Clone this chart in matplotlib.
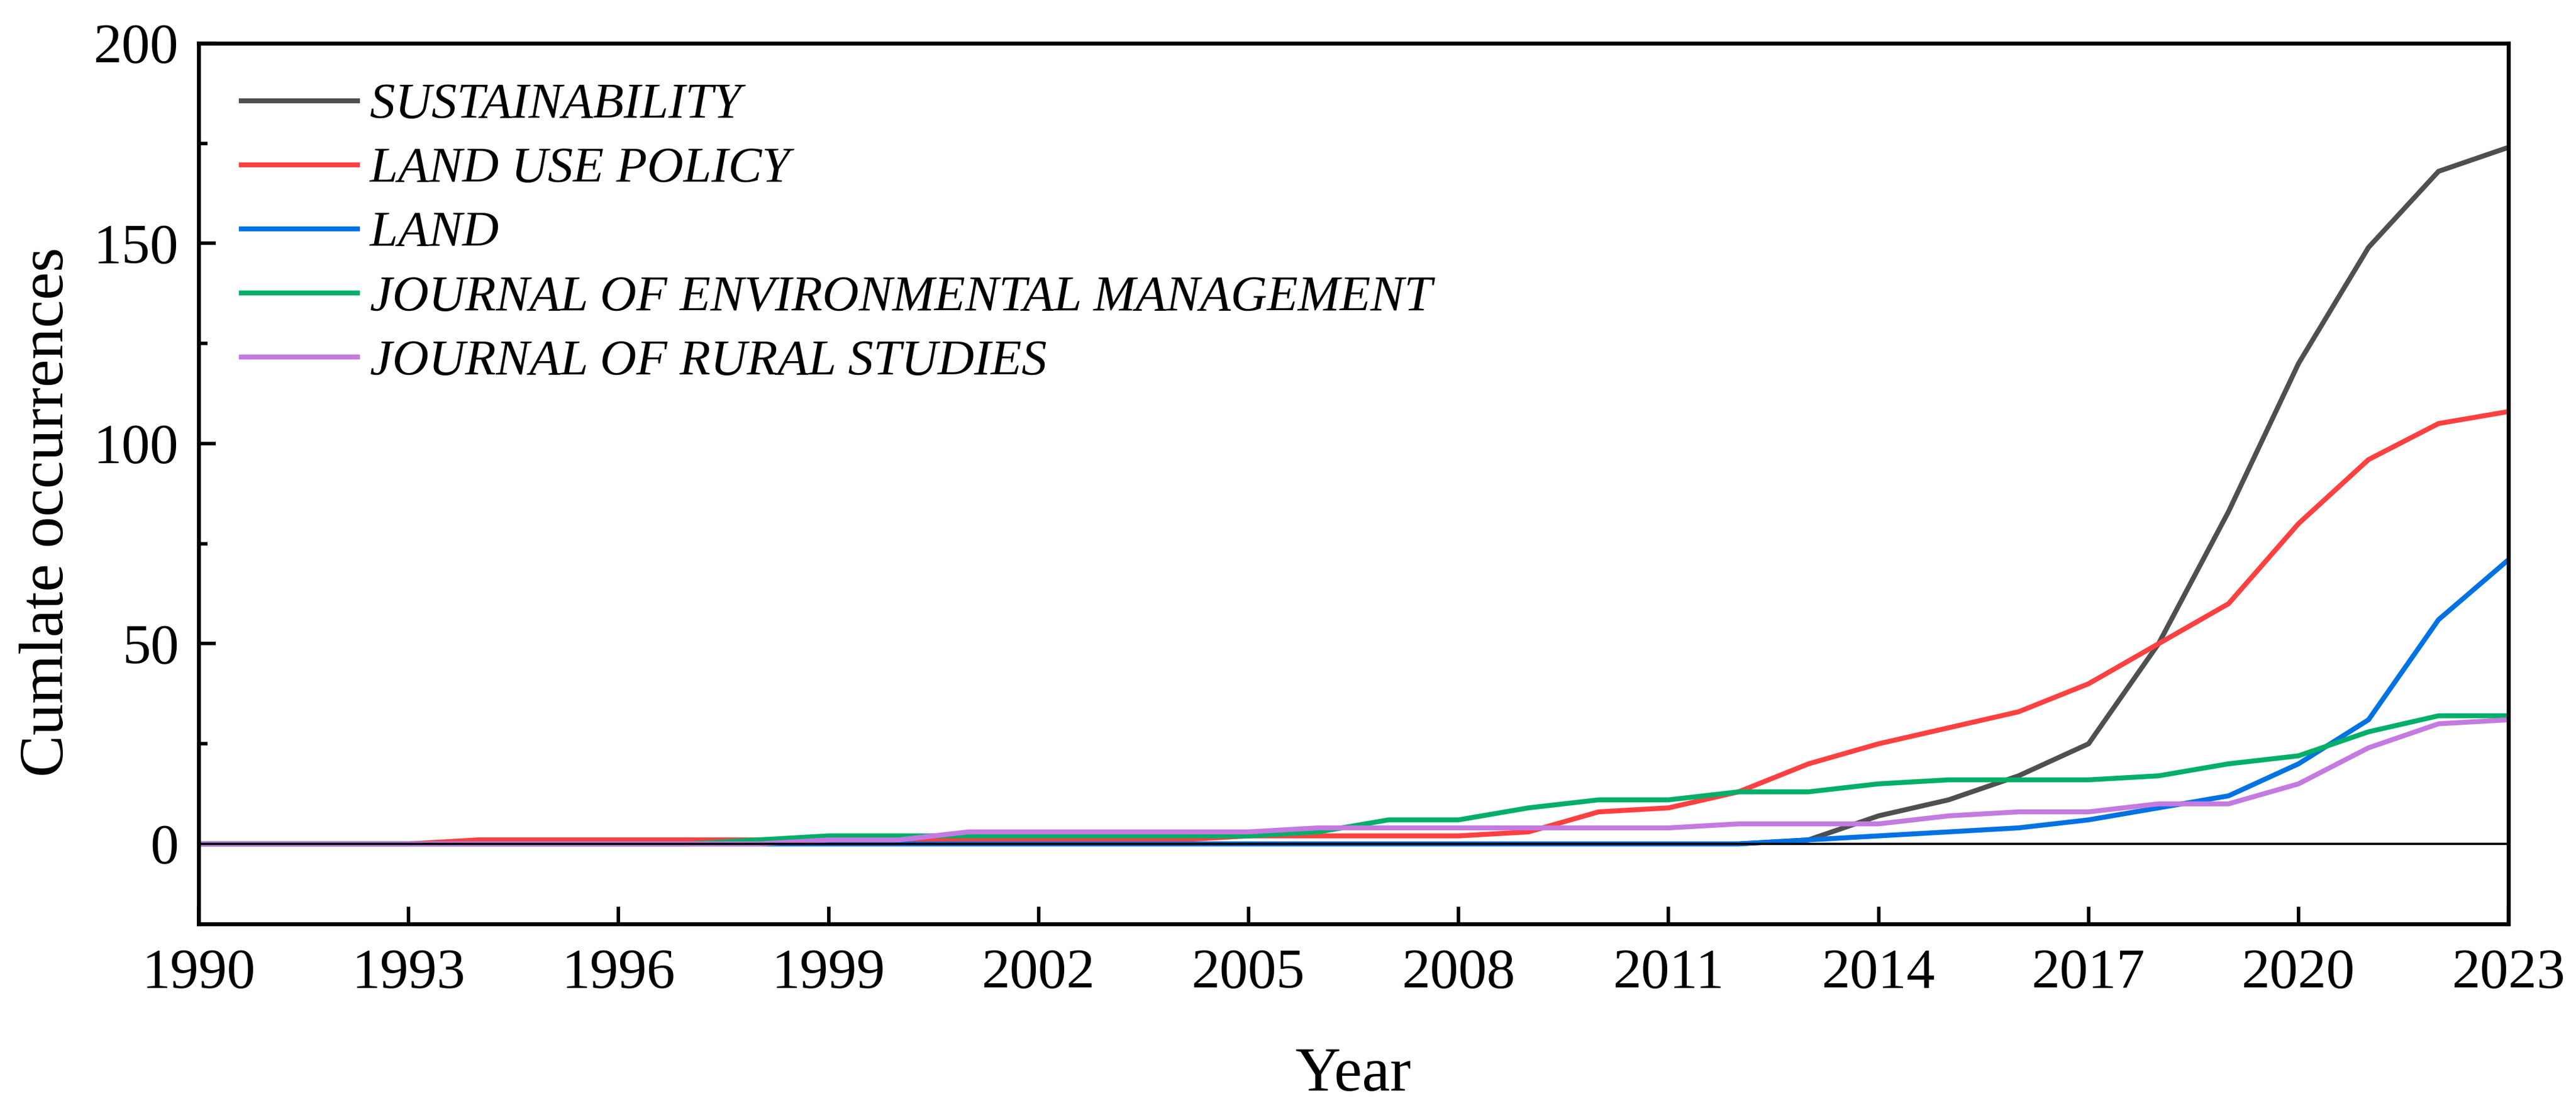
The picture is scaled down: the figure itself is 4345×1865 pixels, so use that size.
import numpy as np
import matplotlib
matplotlib.use("Agg")
import matplotlib.pyplot as plt
from matplotlib.ticker import MultipleLocator

plt.rcParams['font.family'] = ['Liberation Serif', 'DejaVu Serif']

# datos (acumulado por anio)
years = np.arange(1990, 2024)

sustainability = [0, 0, 0, 0, 0, 0, 0, 0, 0, 0,
                  0, 0, 0, 0, 0, 0, 0, 0, 0, 0,
                  0, 0, 0, 1, 7, 11, 17, 25, 50, 83,
                  120, 149, 168, 174]
land_use_policy = [0, 0, 0, 0, 1, 1, 1, 1, 1, 1,
                   1, 1, 1, 1, 1, 2, 2, 2, 2, 3,
                   8, 9, 13, 20, 25, 29, 33, 40, 50, 60,
                   80, 96, 105, 108]
land = [0, 0, 0, 0, 0, 0, 0, 0, 0, 0,
        0, 0, 0, 0, 0, 0, 0, 0, 0, 0,
        0, 0, 0, 1, 2, 3, 4, 6, 9, 12,
        20, 31, 56, 71]
env_management = [0, 0, 0, 0, 0, 0, 0, 0, 1, 2,
                  2, 2, 2, 2, 2, 2, 3, 6, 6, 9,
                  11, 11, 13, 13, 15, 16, 16, 16, 17, 20,
                  22, 28, 32, 32]
rural_studies = [0, 0, 0, 0, 0, 0, 0, 0, 0, 1,
                 1, 3, 3, 3, 3, 3, 4, 4, 4, 4,
                 4, 4, 5, 5, 5, 7, 8, 8, 10, 10,
                 15, 24, 30, 31]

series = [
    ("SUSTAINABILITY", sustainability, "#4f4f4f"),
    ("LAND USE POLICY", land_use_policy, "#ff4040"),
    ("LAND", land, "#0072e3"),
    ("JOURNAL OF ENVIRONMENTAL MANAGEMENT", env_management, "#00af68"),
    ("JOURNAL OF RURAL STUDIES", rural_studies, "#c47ae0"),
]

fig = plt.figure(figsize=(4345 / 300, 1865 / 300), dpi=300)
ax = fig.add_axes([0.0771, 0.1646, 0.8967, 0.7963])

for name, vals, col in series:
    ax.plot(years, vals, color=col, lw=2.0, label=name)

ax.axhline(0, color="black", lw=0.9, zorder=5)

ax.set_xlim(1990, 2023)
ax.set_ylim(-20, 200)
ax.set_xticks(np.arange(1990, 2024, 3))
ax.yaxis.set_major_locator(MultipleLocator(50))
ax.yaxis.set_minor_locator(MultipleLocator(25))

ax.tick_params(axis="both", which="major", direction="in", length=7, width=1.4,
               labelsize=23, top=False, right=False)
ax.tick_params(axis="x", pad=10)
ax.tick_params(axis="y", pad=8)
ax.tick_params(axis="y", which="minor", direction="in", length=3.5, width=1.4, right=False)
for sp in ax.spines.values():
    sp.set_linewidth(1.6)

ax.set_xlabel("Year", fontsize=25.5, labelpad=19)
ax.set_ylabel("Cumlate occurrences", fontsize=25.5)
ax.yaxis.set_label_coords(-0.053, 0.468)

leg = ax.legend(loc="upper left", bbox_to_anchor=(0.0185, 0.955), frameon=False,
                prop={"style": "italic", "size": 20.4}, handlelength=2.3,
                handletextpad=0.25, labelspacing=0.36, borderpad=0, borderaxespad=0)

fig.savefig("out.png", dpi=300)
